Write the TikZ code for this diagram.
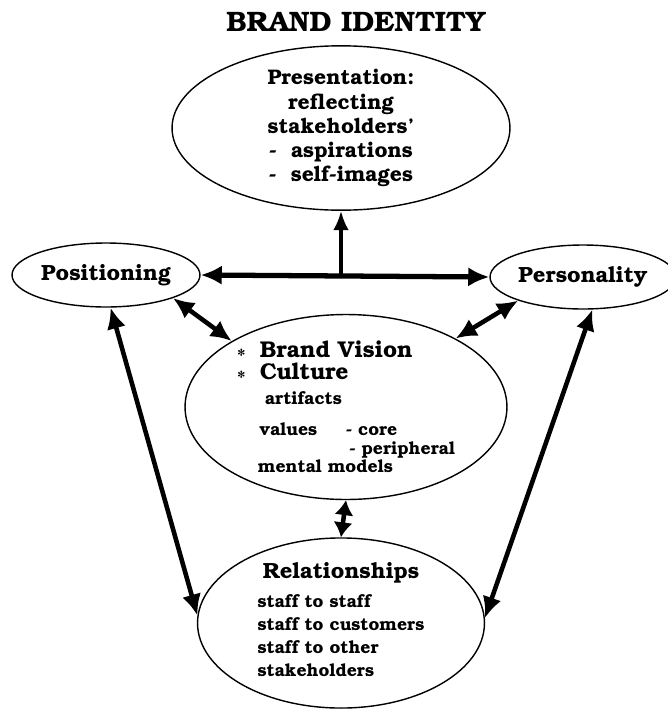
\documentclass[tikz,border=0pt]{standalone}
\usepackage[T1]{fontenc}
\usepackage{bookman}
\usepackage{tikz}
\usetikzlibrary{shapes.geometric,arrows.meta,positioning}

\begin{document}
\begin{tikzpicture}[x=0.02cm, y=-0.02cm]
  % styles
  \tikzstyle{bubble}=[ellipse, draw=black, thick, inner sep=0pt, align=center, font=\bfseries]
  \tikzstyle{line} = [draw, line width=2.6pt, {Latex[length=12pt,width=11pt]}-{Latex[length=12pt,width=11pt]}]
  \tikzstyle{shortline} = [draw, line width=2.6pt, {Latex[length=8.5pt,width=11pt]}-{Latex[length=8.5pt,width=11pt]}]
  \tikzstyle{upline} = [draw, line width=2pt, -{Latex[length=11pt,width=9pt]}]

  \useasboundingbox (0,0) rectangle (668,711);

  \node [font=\bfseries\fontsize{16}{18}\selectfont] (title) at (356,22) {BRAND IDENTITY};

  \node [bubble, minimum width=6.76cm, minimum height=3.0cm,
         font=\bfseries\fontsize{12}{13.7}\selectfont] (presentation) at (341,128) {
      Presentation:\\
      reflecting\\
      stakeholders'\\
      -\ \ aspirations\\
      -\ \ self-images
  };

  \node [bubble, minimum width=3.76cm, minimum height=1.28cm,
         font=\bfseries\fontsize{12.5}{14}\selectfont] (positioning) at (106,275) {Positioning};
  \node [bubble, minimum width=3.72cm, minimum height=1.28cm,
         font=\bfseries\fontsize{12.5}{14}\selectfont] (personality) at (583,277) {Personality};

  \node [bubble, minimum width=6.44cm, minimum height=3.7cm, align=left,
         font=\bfseries\fontsize{10}{13}\selectfont] (vision) at (346,407) {
      \raisebox{-2.5pt}{\fontsize{11}{11}\selectfont *}\hspace{8pt}{\fontsize{13}{14}\selectfont Brand Vision}\\[-0.5pt]
      \raisebox{-2.5pt}{\fontsize{11}{11}\selectfont *}\hspace{8pt}{\fontsize{13}{14}\selectfont Culture}\\[1pt]
      \hspace*{16pt}artifacts\\[4.6pt]
      \hspace*{13pt}\makebox[49pt][l]{values}-\ core\\[-2.2pt]
      \hspace*{13pt}\makebox[51pt][l]{}-\ peripheral\\[-2.8pt]
      \hspace*{12pt}mental models
  };

  \node [bubble, minimum width=5.74cm, minimum height=3.4cm,
         font=\bfseries\fontsize{10}{13}\selectfont] (relationships) at (341,623) {
      {\fontsize{12.5}{14}\selectfont Relationships}\\[4pt]
      \begin{tabular}{@{}l@{}}
        staff to staff\\
        staff to customers\\
        staff to other\\
        stakeholders
      \end{tabular}
  };

  \draw [line, line width=3pt] (positioning.east) to (personality.west);
  \draw [upline] (presentation.south |- positioning.east) to (presentation.south);

  \draw [line] (positioning.-19) to (vision.150);
  \draw [line] (personality.200) to (vision.32);
  \draw [shortline] (vision.south) to (relationships.north);

  \draw [line] (positioning.-82) to (relationships.177.6);
  \draw [line] (personality.-74) to (relationships.2.4);
\end{tikzpicture}
\end{document}
